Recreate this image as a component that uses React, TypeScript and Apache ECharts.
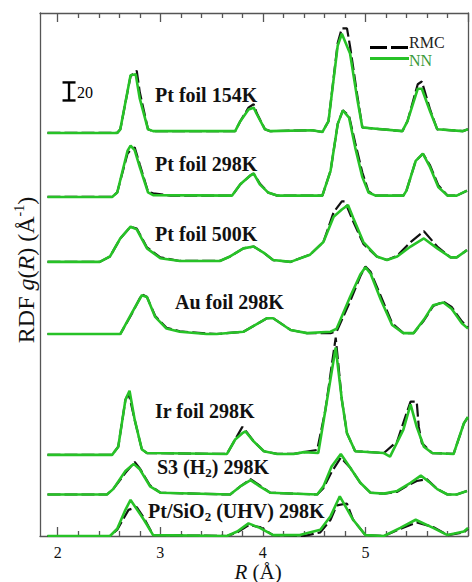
import { useEffect, useRef } from "react";
import * as echarts from "echarts";

// ---------- data ----------
const majorTicks = [2, 3, 4, 5, 6];
const tickLabels = [2, 3, 4, 5];
const minorTicks = [2.2, 2.4, 2.6, 2.8, 3.2, 3.4, 3.6, 3.8, 4.2, 4.4, 4.6, 4.8, 5.2, 5.4, 5.6, 5.8];

const sampleNames = [
  "Pt foil 154K",
  "Pt foil 298K",
  "Pt foil 500K",
  "Au foil 298K",
  "Ir foil 298K",
  "S3 (H2) 298K",
  "Pt/SiO2 (UHV) 298K",
];
const offsets = [447, 376, 304, 224, 90, 46, 0];

const pt154RMC = [[1.9,0],[2.58,0],[2.61,4],[2.71,63],[2.77,69],[2.8,45],[2.88,4],[2.93,2],[3.73,2],[3.78,13],[3.86,28],[3.91,32],[3.94,22],[4.02,4],[4.07,2],[4.48,3],[4.58,1],[4.64,13],[4.73,100],[4.77,116],[4.82,116],[4.85,96],[4.92,42],[4.97,6],[5.36,2],[5.41,13],[5.51,54],[5.55,57],[5.63,26],[5.7,4],[5.95,2],[6.0,4]];
const pt154NN = [[1.9,0],[2.58,0],[2.61,4],[2.71,64],[2.76,65],[2.8,38],[2.88,4],[2.93,2],[3.73,2],[3.78,13],[3.86,26],[3.91,28],[3.94,21],[4.02,4],[4.07,2],[4.48,3],[4.58,1],[4.64,13],[4.73,97],[4.77,110],[4.85,88],[4.92,38],[4.97,6],[5.36,2],[5.41,13],[5.51,49],[5.55,49],[5.63,24],[5.7,4],[5.95,2],[6.0,4]];

const pt298RMC = [[1.9,0],[2.53,0],[2.58,5],[2.68,48],[2.71,52],[2.75,55],[2.8,36],[2.88,6],[2.93,4],[3.1,1.5],[3.7,1.5],[3.78,14],[3.88,24],[3.91,26],[3.97,15],[4.05,5],[4.14,1.5],[4.58,1.5],[4.66,29],[4.73,81],[4.78,96],[4.84,90],[4.9,60],[4.97,27],[5.03,6],[5.1,1.5],[5.37,1.5],[5.4,7],[5.49,40],[5.56,48],[5.63,35],[5.71,13],[5.8,1.5],[5.89,1.5],[5.99,7]];
const pt298NN = [[1.9,0],[2.53,0],[2.58,5],[2.68,51],[2.71,57],[2.75,52],[2.8,33],[2.88,5],[2.93,2],[3.7,1.5],[3.78,14],[3.88,24],[3.91,26],[3.97,14],[4.05,5],[4.14,1.5],[4.58,1.5],[4.66,29],[4.73,81],[4.78,96],[4.84,88],[4.9,55],[4.97,22],[5.03,5],[5.1,1.5],[5.37,1.5],[5.4,7],[5.49,40],[5.56,48],[5.63,33],[5.71,11],[5.8,1.5],[5.89,1.5],[5.99,7]];

const pt500RMC = [[1.9,0],[2.41,0],[2.51,6],[2.61,26],[2.71,39],[2.77,37],[2.87,16],[3.0,5],[3.19,1],[3.58,1],[3.68,6],[3.81,15],[3.91,17],[4.01,10],[4.1,2],[4.27,0],[4.46,8],[4.59,22],[4.69,55],[4.77,67],[4.8,67],[4.88,45],[4.98,20],[5.11,6],[5.21,2],[5.31,7],[5.44,22],[5.57,34],[5.7,17],[5.83,5],[5.89,5],[5.99,13]];
const pt500NN = [[1.9,0],[2.41,0],[2.51,6],[2.61,26],[2.71,39],[2.77,36],[2.87,15],[3.0,4],[3.19,1],[3.58,1],[3.68,6],[3.81,15],[3.91,17],[4.01,10],[4.1,2],[4.27,0],[4.46,8],[4.59,22],[4.69,50],[4.77,58],[4.83,63],[4.88,49],[4.98,22],[5.11,6],[5.21,2],[5.31,6],[5.44,17],[5.57,26],[5.7,15],[5.83,5],[5.89,5],[5.99,13]];

const auRMC = [[1.9,0],[2.61,0],[2.72,22],[2.82,44],[2.87,41],[2.95,20],[3.06,7],[3.19,3],[3.45,0.5],[3.55,0],[3.81,2.5],[4.04,17.5],[4.1,17.5],[4.27,4.5],[4.43,1],[4.66,1],[4.72,3],[4.85,36],[4.95,64],[5.0,75],[5.05,69],[5.15,42],[5.26,12],[5.37,1],[5.47,1],[5.57,15],[5.66,31],[5.76,36],[5.84,30],[5.94,14],[6.0,7]];
const auNN = [[1.9,0],[2.61,0],[2.72,23],[2.82,43],[2.87,41],[2.95,19],[3.06,6],[3.19,2.5],[3.45,0],[3.55,0],[3.81,2.5],[4.04,17.5],[4.1,17.5],[4.27,4.5],[4.43,1],[4.66,2.5],[4.72,6],[4.85,41],[4.95,66],[5.0,74],[5.05,67],[5.15,38],[5.26,10],[5.37,1],[5.47,1],[5.57,16],[5.66,32],[5.76,35],[5.84,28],[5.94,12],[6.0,6]];

const irRMC = [[1.9,0],[2.53,0],[2.59,9],[2.66,61],[2.68,66],[2.7,64],[2.75,39],[2.82,6],[2.87,2],[3.65,1],[3.73,17],[3.8,31],[3.83,27],[3.91,15],[4.01,4],[4.14,1],[4.3,1],[4.4,3],[4.53,5.5],[4.61,50],[4.71,130],[4.77,61],[4.82,24],[4.9,4],[5.18,2],[5.31,15],[5.4,46],[5.44,59],[5.5,59],[5.52,31],[5.55,13],[5.65,2],[5.86,1],[5.96,35],[6.0,42]];
const irNN = [[1.9,0],[2.53,0],[2.59,9],[2.66,61],[2.7,71],[2.75,39],[2.82,6],[2.87,2],[3.65,1],[3.73,17],[3.8,24],[3.83,26],[3.91,15],[4.01,4],[4.14,1],[4.3,1],[4.4,3],[4.54,2],[4.61,50],[4.71,119],[4.77,61],[4.82,24],[4.9,4],[5.18,2],[5.24,-2],[5.37,28],[5.44,56],[5.5,31],[5.57,9],[5.65,2],[5.86,1],[5.96,35],[6.0,42]];

const s3RMC = [[1.9,0],[2.48,0],[2.54,6],[2.66,24],[2.75,36],[2.8,29],[2.9,10],[3.0,2],[3.68,0],[3.78,9],[3.88,17],[3.97,10],[4.07,2],[4.53,0],[4.59,7],[4.67,25],[4.76,41],[4.85,30],[4.95,13],[5.05,2],[5.18,1],[5.31,3],[5.41,10],[5.5,15],[5.6,17],[5.7,6],[5.8,0],[5.89,0],[5.99,4]];
const s3NN = [[1.9,0],[2.48,0],[2.54,6],[2.66,26],[2.74,34],[2.8,28],[2.9,9],[3.0,2],[3.68,0],[3.78,9],[3.88,16],[3.97,9],[4.07,2],[4.53,0],[4.59,9],[4.67,31],[4.76,45],[4.85,30],[4.95,13],[5.05,2],[5.18,1],[5.31,4],[5.44,13],[5.54,21],[5.62,14],[5.7,6],[5.8,0],[5.89,0],[5.99,4]];

const ptSiO2RMC = [[1.9,0],[2.51,0],[2.58,7],[2.69,29],[2.77,32],[2.84,20],[2.93,1],[3.65,0],[3.75,4],[3.86,12],[3.97,10],[4.1,1],[4.4,0],[4.56,4],[4.66,18],[4.72,34],[4.82,36],[4.88,18],[5.0,1],[5.18,0],[5.34,8],[5.5,15],[5.66,10],[5.8,1],[5.96,4],[6.0,8]];
const ptSiO2NN = [[1.9,0],[2.51,0],[2.58,8],[2.66,29],[2.71,40],[2.84,18],[2.93,1],[3.65,0],[3.75,5],[3.86,14],[3.97,9],[4.1,1],[4.36,1],[4.56,7],[4.66,22],[4.75,44],[4.88,18],[5.0,1],[5.18,0],[5.34,9],[5.49,18],[5.66,9],[5.8,1],[5.96,5],[6.0,9]];

const rmcCurves = [pt154RMC, pt298RMC, pt500RMC, auRMC, irRMC, s3RMC, ptSiO2RMC];
const nnCurves = [pt154NN, pt298NN, pt500NN, auNN, irNN, s3NN, ptSiO2NN];

// scale bar: [R, low, high] -> 20 units
const scaleBar = [[2.11, 483, 503]];
const scaleBarLabel = "20";

// ---------- styles ----------
const SERIF = '"Liberation Serif", "Times New Roman", serif';
const GREEN = "#27c227";
const AXIS = "#555";

// label pixel anchors (left, middle)
const labelPos = [
  [155, 95],
  [155, 164],
  [155, 234],
  [175, 302],
  [155, 411],
  [157, 467],
  [148, 511],
];

function labelRich(name: string) {
  if (name.startsWith("S3")) return "{b|S3 (H}{s|2}{b|) 298K}";
  if (name.startsWith("Pt/SiO2")) return "{b|Pt/SiO}{s|2}{b| (UHV) 298K}";
  return "{b|" + name + "}";
}

function buildOption() {
  const series: any[] = [];
  rmcCurves.forEach((c, i) => {
    series.push({
      type: "line",
      name: "RMC " + sampleNames[i],
      data: c.map((p) => [p[0], p[1] + offsets[i]]),
      symbol: "none",
      silent: true,
      lineStyle: { color: "#111", width: 2.2, type: [13, 4] },
      z: 2,
    });
  });
  nnCurves.forEach((c, i) => {
    series.push({
      type: "line",
      name: "NN " + sampleNames[i],
      data: c.map((p) => [p[0], p[1] + offsets[i]]),
      symbol: "none",
      silent: true,
      lineStyle: { color: GREEN, width: 2.6 },
      z: 3,
    });
  });
  series.push({
    type: "custom",
    data: scaleBar,
    silent: true,
    z: 4,
    renderItem: (_p: any, api: any) => {
      const a = api.coord([api.value(0), api.value(1)]);
      const b = api.coord([api.value(0), api.value(2)]);
      const w = 6.5;
      const st = { stroke: "#000", lineWidth: 2.4 };
      return {
        type: "group",
        children: [
          { type: "line", shape: { x1: a[0], y1: a[1], x2: b[0], y2: b[1] }, style: st },
          { type: "line", shape: { x1: a[0] - w, y1: a[1], x2: a[0] + w, y2: a[1] }, style: st },
          { type: "line", shape: { x1: b[0] - w, y1: b[1], x2: b[0] + w, y2: b[1] }, style: st },
          {
            type: "text",
            x: a[0] + 8,
            y: (a[1] + b[1]) / 2 + 1,
            style: { text: scaleBarLabel, font: "16px " + SERIF, fill: "#000", verticalAlign: "middle", align: "left" },
          },
        ],
      };
    },
  });

  const xBase = { type: "value", min: 1.827, max: 6.0, splitLine: { show: false } };
  const xAxis = [
    {
      ...xBase,
      position: "bottom",
      axisLine: { show: true, lineStyle: { color: AXIS, width: 1.3 } },
      axisTick: { show: true, inside: true, length: 9, customValues: majorTicks, lineStyle: { color: AXIS, width: 1.3 } },
      axisLabel: { show: true, customValues: tickLabels, margin: 8, fontFamily: SERIF, fontSize: 16, color: "#111", lineHeight: 16 },
    },
    {
      ...xBase,
      position: "bottom",
      axisLine: { show: false },
      axisTick: { show: true, inside: true, length: 5, customValues: minorTicks, lineStyle: { color: AXIS, width: 1.3 } },
      axisLabel: { show: false },
    },
    {
      ...xBase,
      position: "top",
      axisLine: { show: true, lineStyle: { color: AXIS, width: 1.3 } },
      axisTick: { show: true, inside: true, length: 9, customValues: majorTicks, lineStyle: { color: AXIS, width: 1.3 } },
      axisLabel: { show: false },
    },
    {
      ...xBase,
      position: "top",
      axisLine: { show: false },
      axisTick: { show: true, inside: true, length: 5, customValues: minorTicks, lineStyle: { color: AXIS, width: 1.3 } },
      axisLabel: { show: false },
    },
  ];
  const yBase = {
    type: "value",
    min: 0,
    max: 580,
    splitLine: { show: false },
    axisTick: { show: false },
    axisLabel: { show: false },
    axisLine: { show: true, lineStyle: { color: AXIS, width: 1.3 } },
  };
  const yAxis = [
    { ...yBase, position: "left" },
    { ...yBase, position: "right" },
  ];

  const graphic: any[] = [];
  sampleNames.forEach((n, i) => {
    graphic.push({
      type: "text",
      x: labelPos[i][0],
      y: labelPos[i][1],
      silent: true,
      style: {
        text: labelRich(n),
        align: "left",
        verticalAlign: "middle",
        textAlign: "left",
        textVerticalAlign: "middle",
        rich: {
          b: { fontFamily: SERIF, fontSize: 20, fontWeight: "bold", fill: "#111", lineHeight: 24, verticalAlign: "middle" },
          s: { fontFamily: SERIF, fontSize: 13, fontWeight: "bold", fill: "#111", lineHeight: 24, verticalAlign: "bottom" },
        },
      },
    });
  });
  // legend
  graphic.push(
    { type: "line", shape: { x1: 370, y1: 47.5, x2: 409, y2: 47.5 }, style: { stroke: "#000", lineWidth: 3, lineDash: [17, 4] } },
    { type: "line", shape: { x1: 370, y1: 58.5, x2: 409, y2: 58.5 }, style: { stroke: GREEN, lineWidth: 3 } },
    {
      type: "text", x: 409, y: 42,
      style: { text: "RMC", fontFamily: SERIF, fontSize: 16, lineHeight: 15, fill: "#222", align: "left", verticalAlign: "middle", textAlign: "left", textVerticalAlign: "middle" },
    },
    {
      type: "text", x: 409, y: 60,
      style: { text: "NN", fontFamily: SERIF, fontSize: 16, lineHeight: 15, fill: "#3a9a3a", align: "left", verticalAlign: "middle", textAlign: "left", textVerticalAlign: "middle" },
    }
  );
  // axis titles
  graphic.push(
    {
      type: "text",
      x: 258,
      y: 571.5,
      style: {
        text: "{i|R}{n| (Å)}",
        align: "center",
        verticalAlign: "middle",
        textAlign: "center",
        textVerticalAlign: "middle",
        rich: {
          i: { fontFamily: SERIF, fontSize: 21, fontStyle: "italic", fill: "#111", lineHeight: 18 },
          n: { fontFamily: SERIF, fontSize: 21, fill: "#111", lineHeight: 18 },
        },
      },
    },
    {
      type: "text",
      x: 26,
      y: 270,
      rotation: Math.PI / 2,
      style: {
        text: "{n|RDF }{i|g}{n|(}{i|R}{n|) (Å}{s|-1}{n|)}",
        align: "center",
        verticalAlign: "middle",
        textAlign: "center",
        textVerticalAlign: "middle",
        rich: {
          n: { fontFamily: SERIF, fontSize: 24, fill: "#111", lineHeight: 28, verticalAlign: "middle" },
          i: { fontFamily: SERIF, fontSize: 24, fontStyle: "italic", fill: "#111", lineHeight: 28, verticalAlign: "middle" },
          s: { fontFamily: SERIF, fontSize: 14, fill: "#111", lineHeight: 28, verticalAlign: "top" },
        },
      },
    }
  );

  return {
    animation: false,
    backgroundColor: "#fff",
    grid: { left: 40, right: 4, top: 13, bottom: 46, containLabel: false, outerBoundsMode: "none" },
    xAxis,
    yAxis,
    series,
    graphic,
  };
}

export default function App() {
  const ref = useRef<HTMLDivElement>(null);
  useEffect(() => {
    if (!ref.current) return;
    const chart = echarts.init(ref.current, null, { renderer: "svg" });
    chart.setOption(buildOption() as any);
    return () => chart.dispose();
  }, []);
  return (
    <div
      ref={ref}
      style={{ position: "fixed", left: 0, top: 0, width: 472, height: 582, background: "#fff" }}
    />
  );
}
